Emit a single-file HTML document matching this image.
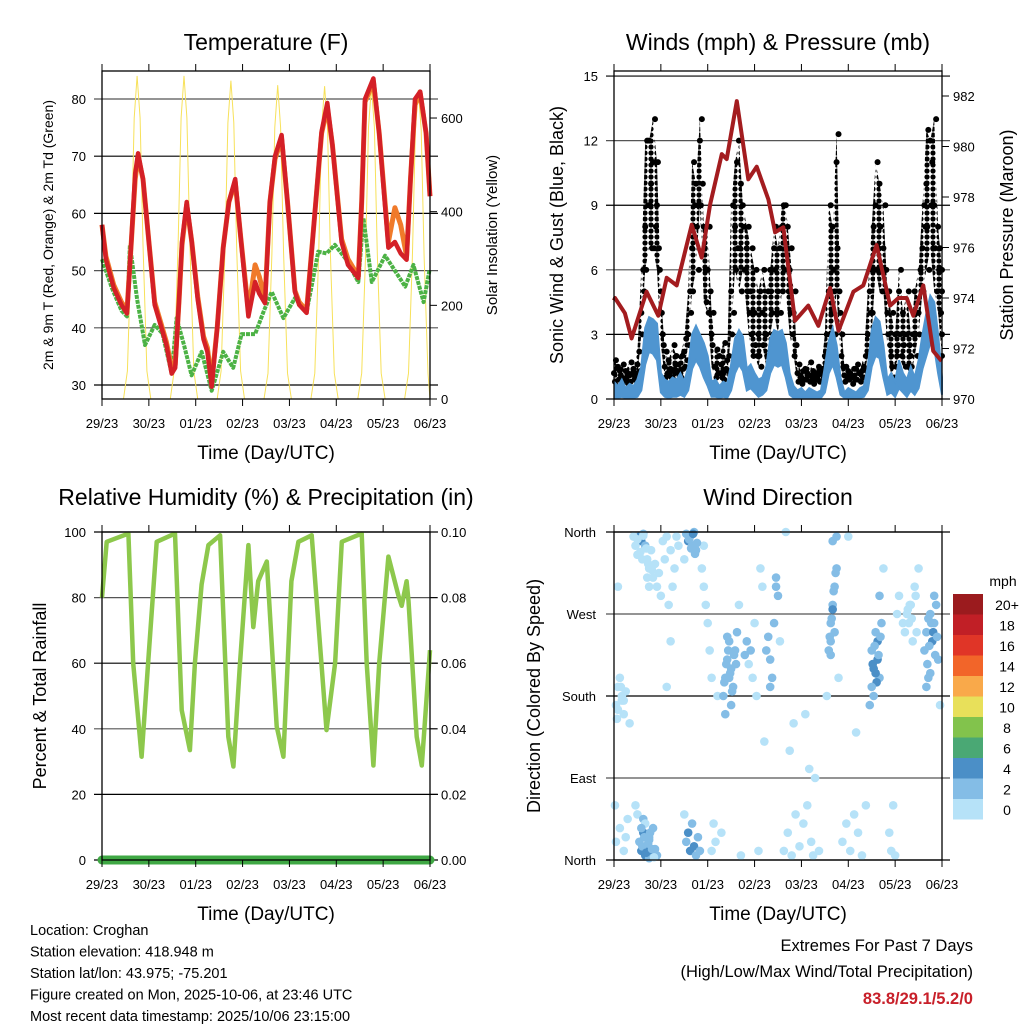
<!DOCTYPE html>
<html><head><meta charset="utf-8"><style>
html,body{margin:0;padding:0;background:#fff;}
svg{display:block;font-family:"Liberation Sans",sans-serif;}
</style></head><body>
<svg id="fig" width="1024" height="1024" viewBox="0 0 1024 1024" xmlns="http://www.w3.org/2000/svg">
<defs>
<pattern id="dotpat" width="6" height="6" patternUnits="userSpaceOnUse"><circle cx="3" cy="3" r="2.6" fill="#000"/></pattern>
</defs>
</svg>
<script>
// ---------- DATA ----------
const dayLabels = ["29/23","30/23","01/23","02/23","03/23","04/23","05/23","06/23"];
const tHours = [0,2,6,10,12.8,15,17,18.5,21,24,27,30,33,35.7,37.5,39.5,41,43.4,46,49,52,54,56.2,59,62.1,65,68.2,71,75,78.4,80.5,83.5,86,88.6,92,95,98.8,101,104.8,108,112.5,115.4,118,122.7,126,131.3,133,134.7,139,142,146.7,150,153,156,158,160.3,163,166,168];
const tRed = [58,52,47,44,42.5,55,67,70.5,66,55,44,40.5,37,32,33,45,55,62,55,45,38,35.8,29.7,40,54,62,66,56,42,48,46,44.3,62,70,73.7,62,46.3,44,42.6,56,74.3,79.3,72,55,51,48.7,62,80,83.6,74,54,55,53,51.9,66,80,81.3,74,63];
const tOrange = [58,52.5,47.5,44.5,43,55,66,70,66,55,44.5,41,37.5,33,33.5,45,54.5,61.5,55,45.5,38.5,36.5,30.5,40,54,62,65.5,56,43,51,49,45,62,69.5,73,62,46.5,44.5,43,56,74,78.5,72,55.5,52,49,62,79.5,83,74,55,61,58,52.5,66,79,81,74,63];
const tdHours = [0,5,10,12.8,14.3,18,22,27,31,35.7,38.2,42,45.9,51,56.2,62.1,67.2,71.5,78.4,83,86.9,92.9,98.8,104.8,110.8,115,119.3,125,131.3,133.9,138.2,145,150,155.3,159.5,164.7,167.7];
const tDew = [52,47,43,42,54.5,45,37,40.5,39,32,41.7,37,31.7,35.8,29,35.8,33,38.9,38.9,43,46.3,41.7,45.2,42.8,53.3,53,54.5,52,48,59.2,48,52.6,50,47.2,51,44.5,50];
const insHours = [0,11,13,15,16.5,18,19.5,21,23,25,35,37,39,40.5,42,43.5,45,47,49,59,61,63,64.5,66,67.5,69,71,73,83,85,87,88.5,90,91.5,93,95,97,107,109,111,112.5,114,115.5,117,119,121,131,133,135,136.5,138,139.5,141,143,145,155,157,159,160.5,162,163.5,165,167,168];
const insVals = [0,0,60,330,600,690,600,330,60,0,0,60,330,600,690,600,330,60,0,0,60,320,590,680,590,320,60,0,0,55,310,580,670,580,310,55,0,0,55,310,580,668,580,310,55,0,0,55,310,580,666,580,310,55,0,0,55,305,575,660,575,305,55,0];
const gustA = [1.2,1.5,1.0,1.3,1.1,1.4,1.6, 4,8,12,11,9,5, 1.5,1.8,1.3,2.0,1.2,2.2, 3,7,10,12,8,6,3, 1.5,2.0,1.2,1.8, 5,8,12,9,7,5,4,3, 4,3,6,7,5,8,9,6,4, 1.2,1.0,1.4,1.1,1.3,0.9,1.2, 2,5,8,11,4, 1.1,1.3,1.0,1.4,1.2,1.5, 3,6,9,10,7,4, 2,3,5,4,3,2,5, 4,7,10,12,9,8,5];
const gustB = [0.8,0.9,0.7,1.0,0.8,0.9,1.0, 3,6,9,7,11,4, 1.0,1.1,0.9,1.3,1.0,1.5, 2.5,5,8,9,7,4,2.5, 1.0,1.2,0.9,1.3, 3,6,7,8,5,3,2.5,2, 2.5,2,5,6,3,5,7,4,2, 0.8,0.7,0.9,0.8,0.7,0.9,0.8, 1.5,3,6,7,2, 0.8,0.9,0.7,0.9,0.8,1.0, 2,4,6,8,5,3, 1.5,1.5,3,2.5,1.5,1.5,3, 3,5,8,9,7,6,3];
const gustC = [1.8,1.3,1.6,1.2,1.7,1.2,2.2, 6,12,10,13,7,3, 2.2,1.4,2.5,1.6,2.0,2.8, 5,11,9,13,6,8,4, 2.3,1.6,2.6,2.0, 9,11,10,6,8,7,6,5, 6,5,4,8,7,9,8,7,5, 1.6,1.3,1.2,1.7,1.0,1.5,1.4, 3,9,5,12.3,3, 1.5,1.2,1.4,1.6,1.3,2.0, 5,8,11,6,9,5, 4,2,6,3,5,3,4, 6,9,12.5,11,13,7,6];
const gustD = [0.6,1.1,0.9,0.7,1.2,1.0,1.3, 5,9,7,8,6,2.5, 1.2,1.0,1.6,1.1,1.4,1.8, 4,9,6,10,4.5,5,1.5, 1.2,1.0,1.4,1.1, 4,7,5,6,4,2,2,1.5, 3,1.5,3,4,4,6,5,3,2.5, 1.0,0.9,1.1,1.0,1.2,0.8,1.0, 2.5,4,3,5,1.5, 1.0,1.1,0.9,1.2,1.0,1.3, 4,3,7,5,6,2.5, 1,2.5,2,1.5,2.5,1,2, 5,8,6,7,5,4,2];
const windHi = [0.8,0.6,0.9,0.5,0.7,0.6,0.9, 1.5,3.3,3.8,3.7,3.5,1.2, 0.9,0.8,1.0,0.9,1.2,0.8, 1.5,3.0,3.4,3.0,2.6,2.0,0.8, 0.9,0.6,0.8,0.7, 1.6,2.8,3.2,2.9,1.4,1.6,1.2,0.9, 1.0,1.5,2.8,3.2,3.1,3.2,2.6,1.2,0.6, 0.4,0.5,0.3,0.5,0.4,0.3,0.4, 1.5,2.7,3.3,2.5,1.0, 0.3,0.5,0.4,0.3,0.5,0.6, 1.5,3.2,3.8,3.6,2.5,0.9, 1.2,0.8,1.8,1.2,0.9,1.5,1.0, 1.8,3.0,4.0,4.8,4.5,3.0,1.0];
const windLo = [0.05,0.05,0.1,0.05,0.05,0.05,0.1, 0.4,1.6,2.2,2.1,1.8,0.3, 0.1,0.05,0.1,0.1,0.2,0.1, 0.4,1.4,1.8,1.5,1.0,0.6,0.1, 0.1,0.05,0.1,0.05, 0.4,1.2,1.6,1.3,0.4,0.5,0.3,0.1, 0.2,0.4,1.2,1.6,1.5,1.6,1.0,0.2,0.05, 0.05,0.05,0.05,0.05,0.05,0.05,0.05, 0.3,1.2,1.6,1.0,0.2, 0.05,0.05,0.05,0.05,0.05,0.1, 0.4,1.5,2.0,1.9,1.0,0.2, 0.3,0.1,0.5,0.3,0.1,0.4,0.2, 0.5,1.4,2.0,2.6,2.4,1.2,0.2];
const pHours = [0,0.5,5.6,9,16.7,22.7,27,32.1,39.8,44.9,49.2,55.2,57.7,62.9,68.8,73.1,79.1,82.5,86.7,92.7,99.5,104.7,110.7,115,122.6,127.7,134.5,141.4,145.7,149.9,153.3,158.4,163.5,167.8];
const pVals = [973.9,974.0,973.4,972.4,974.25,973.3,974.8,974.5,976.9,975.6,977.7,979.7,979.5,981.8,978.7,979.2,977.9,976.6,976.8,973.1,973.7,972.9,974.4,972.7,974.25,974.5,976.1,973.7,974.0,974.0,973.3,974.5,971.9,971.5];
const rhHours = [0,2.4,13.5,16,20.3,23.6,28,37.4,40.8,45,47.6,51,54.5,60.5,64.7,67.3,70.7,75,77.5,80,84.4,89.5,92.9,97,100.6,107.4,115,119.4,122.8,133,135.6,139,142,146.7,151.8,153.5,156,157,161.2,163.8,168];
const rhVals = [80,97,99.5,60,31.5,60,97,99.5,45.7,33.5,60,84,96,99,37.6,28.5,60,96,71,85,91,40.7,31.5,85,97,99,39.6,60,97,99.5,60,28.8,60,92.5,80.6,77.5,85,79,37.6,28.8,64];
const precipVals = [0,0];
const dirH = [1,2,3,4,5,6,1,3,5,7,2,8,0.5,6, 13,14,15,16,17,18,19,20,21,12,11,15,18,22, 13,14,15,16,17,18,19,20,21,22,23,24,12,10, 25,27,29,31,33,26,30,32,28,27,29, 37,38,39,40,41,42,36, 37,38,39,40,41,42,43,36,44, 45,46,47,48,49,50,51,52,53,46,50, 56,57,58,59,60,61,62,63,57,60,64,55,65, 67,68,69,70,71,72,73,74,75,76, 78,79,80,81,82,83,84,85,80,83,77, 87,89,91,93,95,90,92,88, 97,99,101,103,105,100,102,98, 110,111,112,113,114,112,111,113,109,115,114, 117,119,121,123,125,127,129,120,124, 132,133,134,135,136,133,135,137,131,138,136, 141,142,143,144,145,146, 149,150,151,152,153,154,155,156, 159,160,161,162,163,164,165,166,160,167,164,
 14.5,15.5,16.5,17.5,18.5,19.5,20.5,16,18,14, 11,12,13.5,14.5,16.5,17.5,19.5,15,17,18, 2,4,1.5,3.5,5, 56.5,57.5,58.5,59.5,60.5,61.5,58,59,62.5, 110.5,111.5,112.5,113.5,111,112, 132.5,133.5,134.5,135.5,136.5,134,132, 160.5,161.5,162.5,163.5,164.5,165.5,162,161, 38.5,39.5,40.5,41.5,42.5, 148,150.5,152.5,154.5,151.5];
const dirD = [170,190,200,175,160,185,20,35,10,45,300,150,60,25, 20,10,30,5,15,25,8,35,12,50,60,45,2,5, 355,350,358,345,330,320,340,310,325,300,315,290,335,355, 350,355,340,320,345,330,300,355,280,190,240, 358,350,355,345,360,340,330, 20,30,10,40,15,5,25,50,10, 320,300,280,260,230,200,40,20,180,345,10, 180,200,220,240,210,190,230,250,160,170,280,30,5, 225,240,215,230,200,260,180,10,320,300, 230,245,220,200,260,310,290,240,190,300,130, 10,30,5,50,15,120,150,360, 40,60,20,90,10,100,5,160, 230,260,280,300,320,350,240,250,180,200,355, 20,40,10,50,30,5,60,355,140, 230,210,250,240,200,180,220,260,170,320,290, 30,10,60,5,270,290, 250,270,260,280,240,300,250,320, 230,250,200,270,240,260,280,220,190,170,290,
 15,25,8,18,30,12,3,40,22,35, 345,352,338,330,342,325,318,356,310,300, 165,180,155,190,175, 195,215,230,205,185,225,245,200,215, 245,265,295,315,225,275, 215,235,195,225,245,205,190, 215,235,260,250,225,245,205,265, 352,342,358,336,348, 260,275,265,290,280];
const dirS = [0,1,0,1,0,0,0,1,0,0,0,0,1,0, 3,4,4,5,4,3,4,3,2,1,1,2,3,2, 4,5,3,2,1,1,1,1,1,1,1,1,1,1, 1,0,1,1,0,0,0,1,0,0,0, 3,4,3,2,3,2,1, 3,4,4,3,4,3,2,1,2, 1,1,1,1,1,0,0,0,0,0,0, 2,3,3,2,3,2,3,2,2,2,1,0,0, 2,2,1,2,1,1,0,0,1,0, 2,3,2,2,2,3,2,1,2,2,0, 0,0,0,0,0,0,0,0, 0,0,0,0,0,0,0,0, 2,2,3,2,3,3,2,3,1,1,2, 0,0,0,0,0,0,0,0,0, 3,4,3,4,3,3,4,2,2,1,2, 0,0,0,0,0,0, 1,0,0,1,0,0,1,0, 2,3,3,3,4,3,2,2,2,0,3,
 2,3,4,2,3,2,1,1,3,2, 1,1,1,0,1,1,0,0,1,1, 0,0,0,0,0, 2,3,2,3,2,3,2,2,3, 2,3,2,3,2,4, 4,3,4,3,2,4,3, 3,2,3,4,3,2,3,2, 3,2,4,2,3, 0,0,1,0,0];
const speedLabels = ["0","2","4","6","8","10","12","14","16","18","20+"];
const speedColors = ["#b6e2f8","#84bde6","#4b8fc7","#4aa874","#82c34c","#e8e05a","#f9a94a","#f26529","#e03527","#c11f26","#9b1b1e"];

// ---------- DRAWING ----------
const NS = "http://www.w3.org/2000/svg";
const svg = document.getElementById("fig");
function mk(tag, attrs, parent) {
  const e = document.createElementNS(NS, tag);
  for (const k in attrs) e.setAttribute(k, attrs[k]);
  (parent || svg).appendChild(e);
  return e;
}
function txt(x, y, s, size, anchor, parent, extra) {
  const t = mk("text", Object.assign({x: x, y: y, "font-size": size, "text-anchor": anchor || "middle", fill: "#000"}, extra || {}), parent);
  t.textContent = s;
  return t;
}
function panelX(x0) { return h => x0 + h * 328 / 168; }
function frame(name) {
  const g = mk("g", {});
  
  
  return g;
}
function xAxis(g, x0, y1, xf) {
  for (let i = 0; i < dayLabels.length; i++) {
    const x = xf(i * 24);
    const tk = mk("line", {x1: x, x2: x, y1: y1, y2: y1 + 7, stroke: "#000", "stroke-width": 1}, g);
    
    
    const lb = txt(x, y1 + 29, dayLabels[i], 13, "middle", g);
    
    
  }
  const at = txt(x0 + 164, y1 + 60, "Time (Day/UTC)", 19, "middle", g);
  
  
}
function topTicks(g, y0, xf) {
  for (let i = 0; i < dayLabels.length; i++) {
    const x = xf(i * 24);
    const tk = mk("line", {x1: x, x2: x, y1: y0 - 7, y2: y0, stroke: "#000"}, g);
    
    
  }
}
function hgrid(g, x0, y, col) {
  const l = mk("line", {x1: x0 - 8, x2: x0 + 336, y1: y, y2: y, stroke: col || "#000", "stroke-width": 1.2}, g);
  
  
}
function box(g, x0, y0, y1) {
  const r = mk("rect", {x: x0, y: y0, width: 328, height: y1 - y0, fill: "none", stroke: "#000", "stroke-width": 1.3}, g);
  
  
}
function poly(g, xsArr, ysArr, attrs) {
  let d = "";
  for (let i = 0; i < xsArr.length; i++) d += (i ? "L" : "M") + xsArr[i].toFixed(1) + " " + ysArr[i].toFixed(1);
  return mk("path", Object.assign({d: d, fill: "none"}, attrs), g);
}

// ===== Panel 1: Temperature =====
(function () {
  const x0 = 102, y0 = 71, y1 = 399;
  const xf = panelX(x0);
  const yT = v => 385 - (v - 30) * 5.72;
  const yI = v => 399 - v * 0.4683;
  const g = frame('temperature-panel');
  const tt = txt(266, 50, "Temperature (F)", 23, "middle", g);
  
  
  [30, 40, 50, 60, 70, 80].forEach(v => {
    hgrid(g, x0, yT(v), v === 40 || v === 50 || v === 80 ? "#555" : "#000");
    const lb = txt(x0 - 16, yT(v) + 5, String(v), 13, "end", g);
    
    
  });
  [0, 200, 400, 600].forEach(v => {
    const tk = mk("line", {x1: x0 + 328, x2: x0 + 335, y1: yI(v), y2: yI(v), stroke: "#000"}, g);
    
    
    const lb = txt(x0 + 339, yI(v) + 5, String(v), 13, "start", g);
    
    
  });
  const ins = poly(g, insHours.map(xf), insVals.map(yI), {stroke: "#f7e15a", "stroke-width": 1});
  
  
  const dew = poly(g, tdHours.map(xf), tDew.map(yT), {stroke: "#4cb245", "stroke-width": 4, "stroke-dasharray": "4 1", "stroke-linejoin": "round"});
  
  
  const or = poly(g, tHours.map(xf), tOrange.map(yT), {stroke: "#f07a2a", "stroke-width": 5, "stroke-linejoin": "round"});
  
  
  const rd = poly(g, tHours.map(xf), tRed.map(yT), {stroke: "#d42027", "stroke-width": 4.5, "stroke-linejoin": "round"});
  
  
  box(g, x0, y0, y1);
  topTicks(g, y0, xf);
  xAxis(g, x0, y1, xf);
  const yl = txt(0, 0, "2m & 9m T (Red, Orange) & 2m Td (Green)", 14, "middle", g, {transform: "translate(53,235) rotate(-90)"});
  
  
  const yr = txt(0, 0, "Solar Insolation (Yellow)", 15, "middle", g, {transform: "translate(497,235) rotate(-90)"});
  
  
})();

// ===== Panel 2: Winds & Pressure =====
(function () {
  const x0 = 614, y0 = 71, y1 = 399;
  const xf = panelX(x0);
  const yW = v => 399 - v * 21.53;
  const yP = v => 399 - (v - 970) * 25.25;
  const g = frame('winds-panel');
  const tt = txt(778, 50, "Winds (mph) & Pressure (mb)", 23, "middle", g);
  
  
  [0, 3, 6, 9, 12, 15].forEach(v => {
    hgrid(g, x0, yW(v), v === 6 || v === 12 ? "#555" : "#000");
    const lb = txt(x0 - 16, yW(v) + 5, String(v), 13, "end", g);
    
    
  });
  [970, 972, 974, 976, 978, 980, 982].forEach(v => {
    const tk = mk("line", {x1: x0 + 328, x2: x0 + 335, y1: yP(v), y2: yP(v), stroke: "#000"}, g);
    
    
    const lb = txt(x0 + 339, yP(v) + 5, String(v), 13, "start", g);
    
    
  });
  const gusts = [gustA, gustB, gustC, gustD];
  // dotted cloud between min and max gust per time step
  const hrs = windHi.map((v, i) => i * 2);
  const gMax = hrs.map((h, i) => Math.max(gustA[i], gustB[i], gustC[i], gustD[i]));
  const gMin = hrs.map((h, i) => Math.min(gustA[i], gustB[i], gustC[i], gustD[i]));
  const cx = hrs.map(xf).concat(hrs.map(xf).reverse());
  const cy = gMax.map(yW).concat(gMin.map(yW).reverse());
  const cloud = poly(g, cx, cy, {fill: "url(#dotpat)", stroke: "none"});
  
  
  const offs = [0, 0.5, 1, 1.5];
  gusts.forEach((arr, k) => {
    arr.forEach((v, i) => {
      const c = mk("circle", {cx: xf(Math.min(168, i * 2 + offs[k])), cy: yW(v), r: 3, fill: "#000"}, g);
      
      
    });
  });
  const bx = hrs.map(xf).concat(hrs.map(xf).reverse());
  const by = windHi.map(yW).concat(windLo.map(yW).reverse());
  const band = poly(g, bx, by, {fill: "#4f95d0", stroke: "#4f95d0", "stroke-width": 2});
  
  
  const pl = poly(g, pHours.map(xf), pVals.map(yP), {stroke: "#a31c1f", "stroke-width": 4, "stroke-linejoin": "round"});
  
  
  box(g, x0, y0, y1);
  topTicks(g, y0, xf);
  xAxis(g, x0, y1, xf);
  const yl = txt(0, 0, "Sonic Wind & Gust (Blue, Black)", 18, "middle", g, {transform: "translate(563,235) rotate(-90)"});
  
  
  const yr = txt(0, 0, "Station Pressure (Maroon)", 18, "middle", g, {transform: "translate(1013,235) rotate(-90)"});
  
  
})();

// ===== Panel 3: RH & Precip =====
(function () {
  const x0 = 102, y0 = 532, y1 = 860;
  const xf = panelX(x0);
  const yR = v => 860 - v * 3.28;
  const yPr = v => 860 - v * 3280;
  const g = frame('humidity-panel');
  const tt = txt(266, 505, "Relative Humidity (%) & Precipitation (in)", 23, "middle", g);
  
  
  [0, 20, 40, 60, 80, 100].forEach(v => {
    hgrid(g, x0, yR(v), v === 40 || v === 80 ? "#555" : "#000");
    const lb = txt(x0 - 16, yR(v) + 5, String(v), 13, "end", g);
    
    
  });
  ["0.00", "0.02", "0.04", "0.06", "0.08", "0.10"].forEach((s, i) => {
    const v = i * 0.02;
    const tk = mk("line", {x1: x0 + 328, x2: x0 + 335, y1: yPr(v), y2: yPr(v), stroke: "#000"}, g);
    
    
    const lb = txt(x0 + 339, yPr(v) + 5, s, 13, "start", g);
    
    
  });
  const rh = poly(g, rhHours.map(xf), rhVals.map(yR), {stroke: "#8dc84c", "stroke-width": 4.5, "stroke-linejoin": "round"});
  
  
  const pr = poly(g, [xf(0), xf(168)], precipVals.map(yPr), {stroke: "#3fa844", "stroke-width": 9, "stroke-linecap": "round"});
  
  
  box(g, x0, y0, y1);
  topTicks(g, y0, xf);
  xAxis(g, x0, y1, xf);
  const yl = txt(0, 0, "Percent & Total Rainfall", 18, "middle", g, {transform: "translate(46,696) rotate(-90)"});
  
  
})();

// ===== Panel 4: Wind Direction =====
(function () {
  const x0 = 614, y0 = 532, y1 = 860;
  const xf = panelX(x0);
  const yD = v => 860 - v * 328 / 360;
  const g = frame('wind-direction-panel');
  const tt = txt(778, 505, "Wind Direction", 23, "middle", g);
  
  
  const dn = ["North", "East", "South", "West", "North"];
  dn.forEach((s, i) => {
    hgrid(g, x0, yD(i * 90), i === 1 || i === 3 ? "#555" : "#000");
    const lb = txt(x0 - 18, yD(i * 90) + 5, s, 13, "end", g);
    
    
  });
  for (let i = 0; i < dirH.length; i++) {
    const ci = Math.min(10, Math.floor(dirS[i] / 2));
    const c = mk("circle", {cx: xf(dirH[i]), cy: yD(dirD[i]), r: 4.3, fill: speedColors[ci]}, g);
    
    
  }
  box(g, x0, y0, y1);
  topTicks(g, y0, xf);
  xAxis(g, x0, y1, xf);
  const yl = txt(0, 0, "Direction (Colored By Speed)", 18, "middle", g, {transform: "translate(540,696) rotate(-90)"});
  
  
  const lg = mk("g", {}, svg);
  
  
  const unit = txt(1003, 586, "mph", 14, "middle", lg);
  
  
  for (let i = 0; i < speedLabels.length; i++) {
    const yy = 594 + (10 - i) * 20.5;
    const r = mk("rect", {x: 953, y: yy, width: 30, height: 20.5, fill: speedColors[i]}, lg);
    
    
    const lb = txt(1007, yy + 16, speedLabels[i], 14, "middle", lg);
    
    
  }
})();

// ===== Footer text =====
(function () {
  const g = mk("g", {}, svg);
  
  
  const lines = ["Location: Croghan", "Station elevation: 418.948 m", "Station lat/lon: 43.975; -75.201", "Figure created on Mon, 2025-10-06, at 23:46 UTC", "Most recent data timestamp: 2025/10/06 23:15:00"];
  lines.forEach((s, i) => {
    const t = txt(30, 935 + i * 21.5, s, 14.5, "start", g);
    
    
  });
  const e = mk("g", {}, svg);
  
  
  const a = txt(973, 951, "Extremes For Past 7 Days", 16.5, "end", e);
  
  
  const b = txt(973, 977, "(High/Low/Max Wind/Total Precipitation)", 16.5, "end", e);
  
  
  const c = txt(973, 1004, "83.8/29.1/5.2/0", 16.5, "end", e, {fill: "#c8202a", "font-weight": "bold"});
  
  
})();
</script>
</body></html>
